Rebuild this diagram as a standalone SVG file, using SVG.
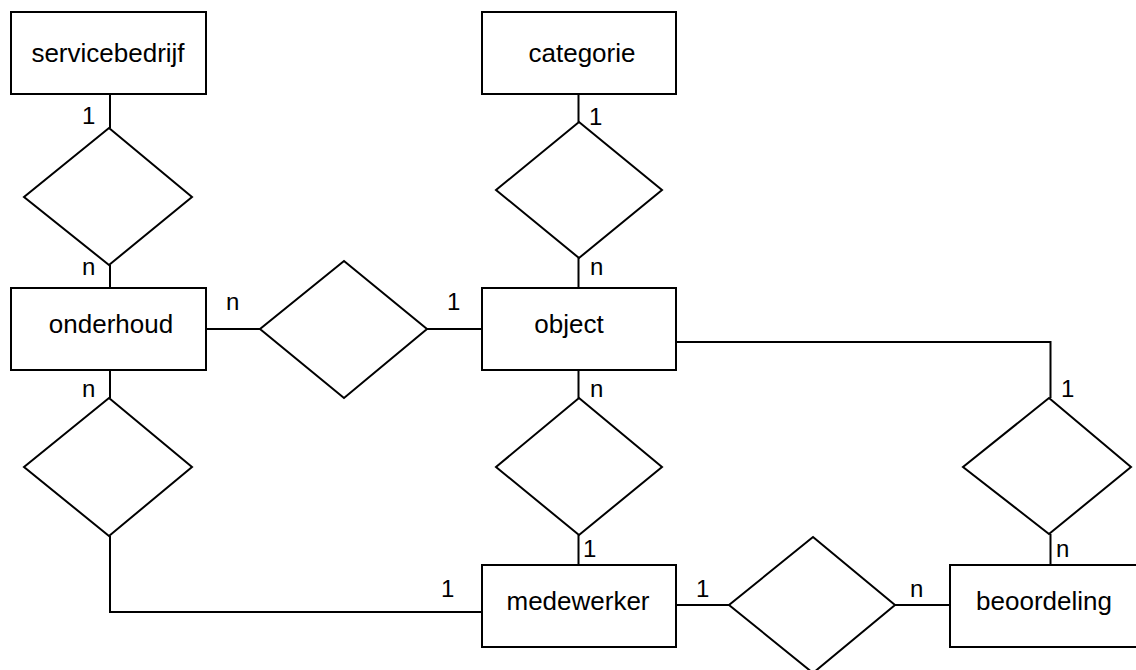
<svg xmlns="http://www.w3.org/2000/svg" width="1136" height="670" viewBox="0 0 1136 670">
<style>
.box{fill:#fff;stroke:#000;stroke-width:2}
.rel{fill:#fff;stroke:#000;stroke-width:2;stroke-linejoin:miter}
.ln{fill:none;stroke:#000;stroke-width:2}
.t{font-family:"Liberation Sans",Arial,sans-serif;font-size:26px;fill:#000;text-anchor:middle}
.c{font-family:"Liberation Sans",Arial,sans-serif;font-size:24px;fill:#000}
</style>
<rect width="1136" height="670" fill="#fff"/>
<g id="connectors">
<path class="ln" d="M110 94 V128"/>
<path class="ln" d="M110 265 V288"/>
<path class="ln" d="M110 370 V398"/>
<path class="ln" d="M110 536 V612 H482"/>
<path class="ln" d="M206 329 H260"/>
<path class="ln" d="M427 329 H482"/>
<path class="ln" d="M578.5 94 V122"/>
<path class="ln" d="M578.5 258 V288"/>
<path class="ln" d="M578.5 370 V398"/>
<path class="ln" d="M578.5 535 V565"/>
<path class="ln" d="M676 342 H1050.5 V398"/>
<path class="ln" d="M1050.5 534 V565"/>
<path class="ln" d="M676 605 H729"/>
<path class="ln" d="M895 605 H950"/>
<text class="c" x="82" y="124">1</text>
<text class="c" x="82" y="275">n</text>
<text class="c" x="226" y="310">n</text>
<text class="c" x="82" y="397">n</text>
<text class="c" x="447" y="310">1</text>
<text class="c" x="589" y="125">1</text>
<text class="c" x="590" y="275">n</text>
<text class="c" x="590" y="397">n</text>
<text class="c" x="583" y="557">1</text>
<text class="c" x="441" y="597">1</text>
<text class="c" x="1061" y="397">1</text>
<text class="c" x="1056" y="557">n</text>
<text class="c" x="696" y="597">1</text>
<text class="c" x="910" y="597">n</text>
</g>
<g id="servicebedrijf"><rect class="box" x="11" y="12" width="195" height="82"/><text class="t" x="108" y="62">servicebedrijf</text></g>
<g id="categorie"><rect class="box" x="482" y="12" width="194" height="82"/><text class="t" x="582" y="62">categorie</text></g>
<g id="onderhoud"><rect class="box" x="11" y="288" width="195" height="82"/><text class="t" x="111" y="333">onderhoud</text></g>
<g id="object"><rect class="box" x="482" y="288" width="194" height="82"/><text class="t" x="569" y="333">object</text></g>
<g id="medewerker"><rect class="box" x="482" y="565" width="194" height="82"/><text class="t" x="578" y="610">medewerker</text></g>
<g id="beoordeling"><rect class="box" x="950" y="565" width="200" height="82"/><text class="t" x="1044" y="610">beoordeling</text></g>
<g id="rel-servicebedrijf-onderhoud"><polygon class="rel" points="109,128 192,197 109,265 24,197"/></g>
<g id="rel-categorie-object"><polygon class="rel" points="579,122 662,190 579,258 496,190"/></g>
<g id="rel-onderhoud-object"><polygon class="rel" points="344,261 427,329 344,398 260,329"/></g>
<g id="rel-onderhoud-medewerker"><polygon class="rel" points="109,398 192,467 109,536 24,467"/></g>
<g id="rel-object-medewerker"><polygon class="rel" points="579,398 662,467 579,535 496,467"/></g>
<g id="rel-object-beoordeling"><polygon class="rel" points="1049,398 1131,467 1049,534 963,467"/></g>
<g id="rel-medewerker-beoordeling"><polygon class="rel" points="813,537 895,605 813,673 729,605"/></g>
</svg>
